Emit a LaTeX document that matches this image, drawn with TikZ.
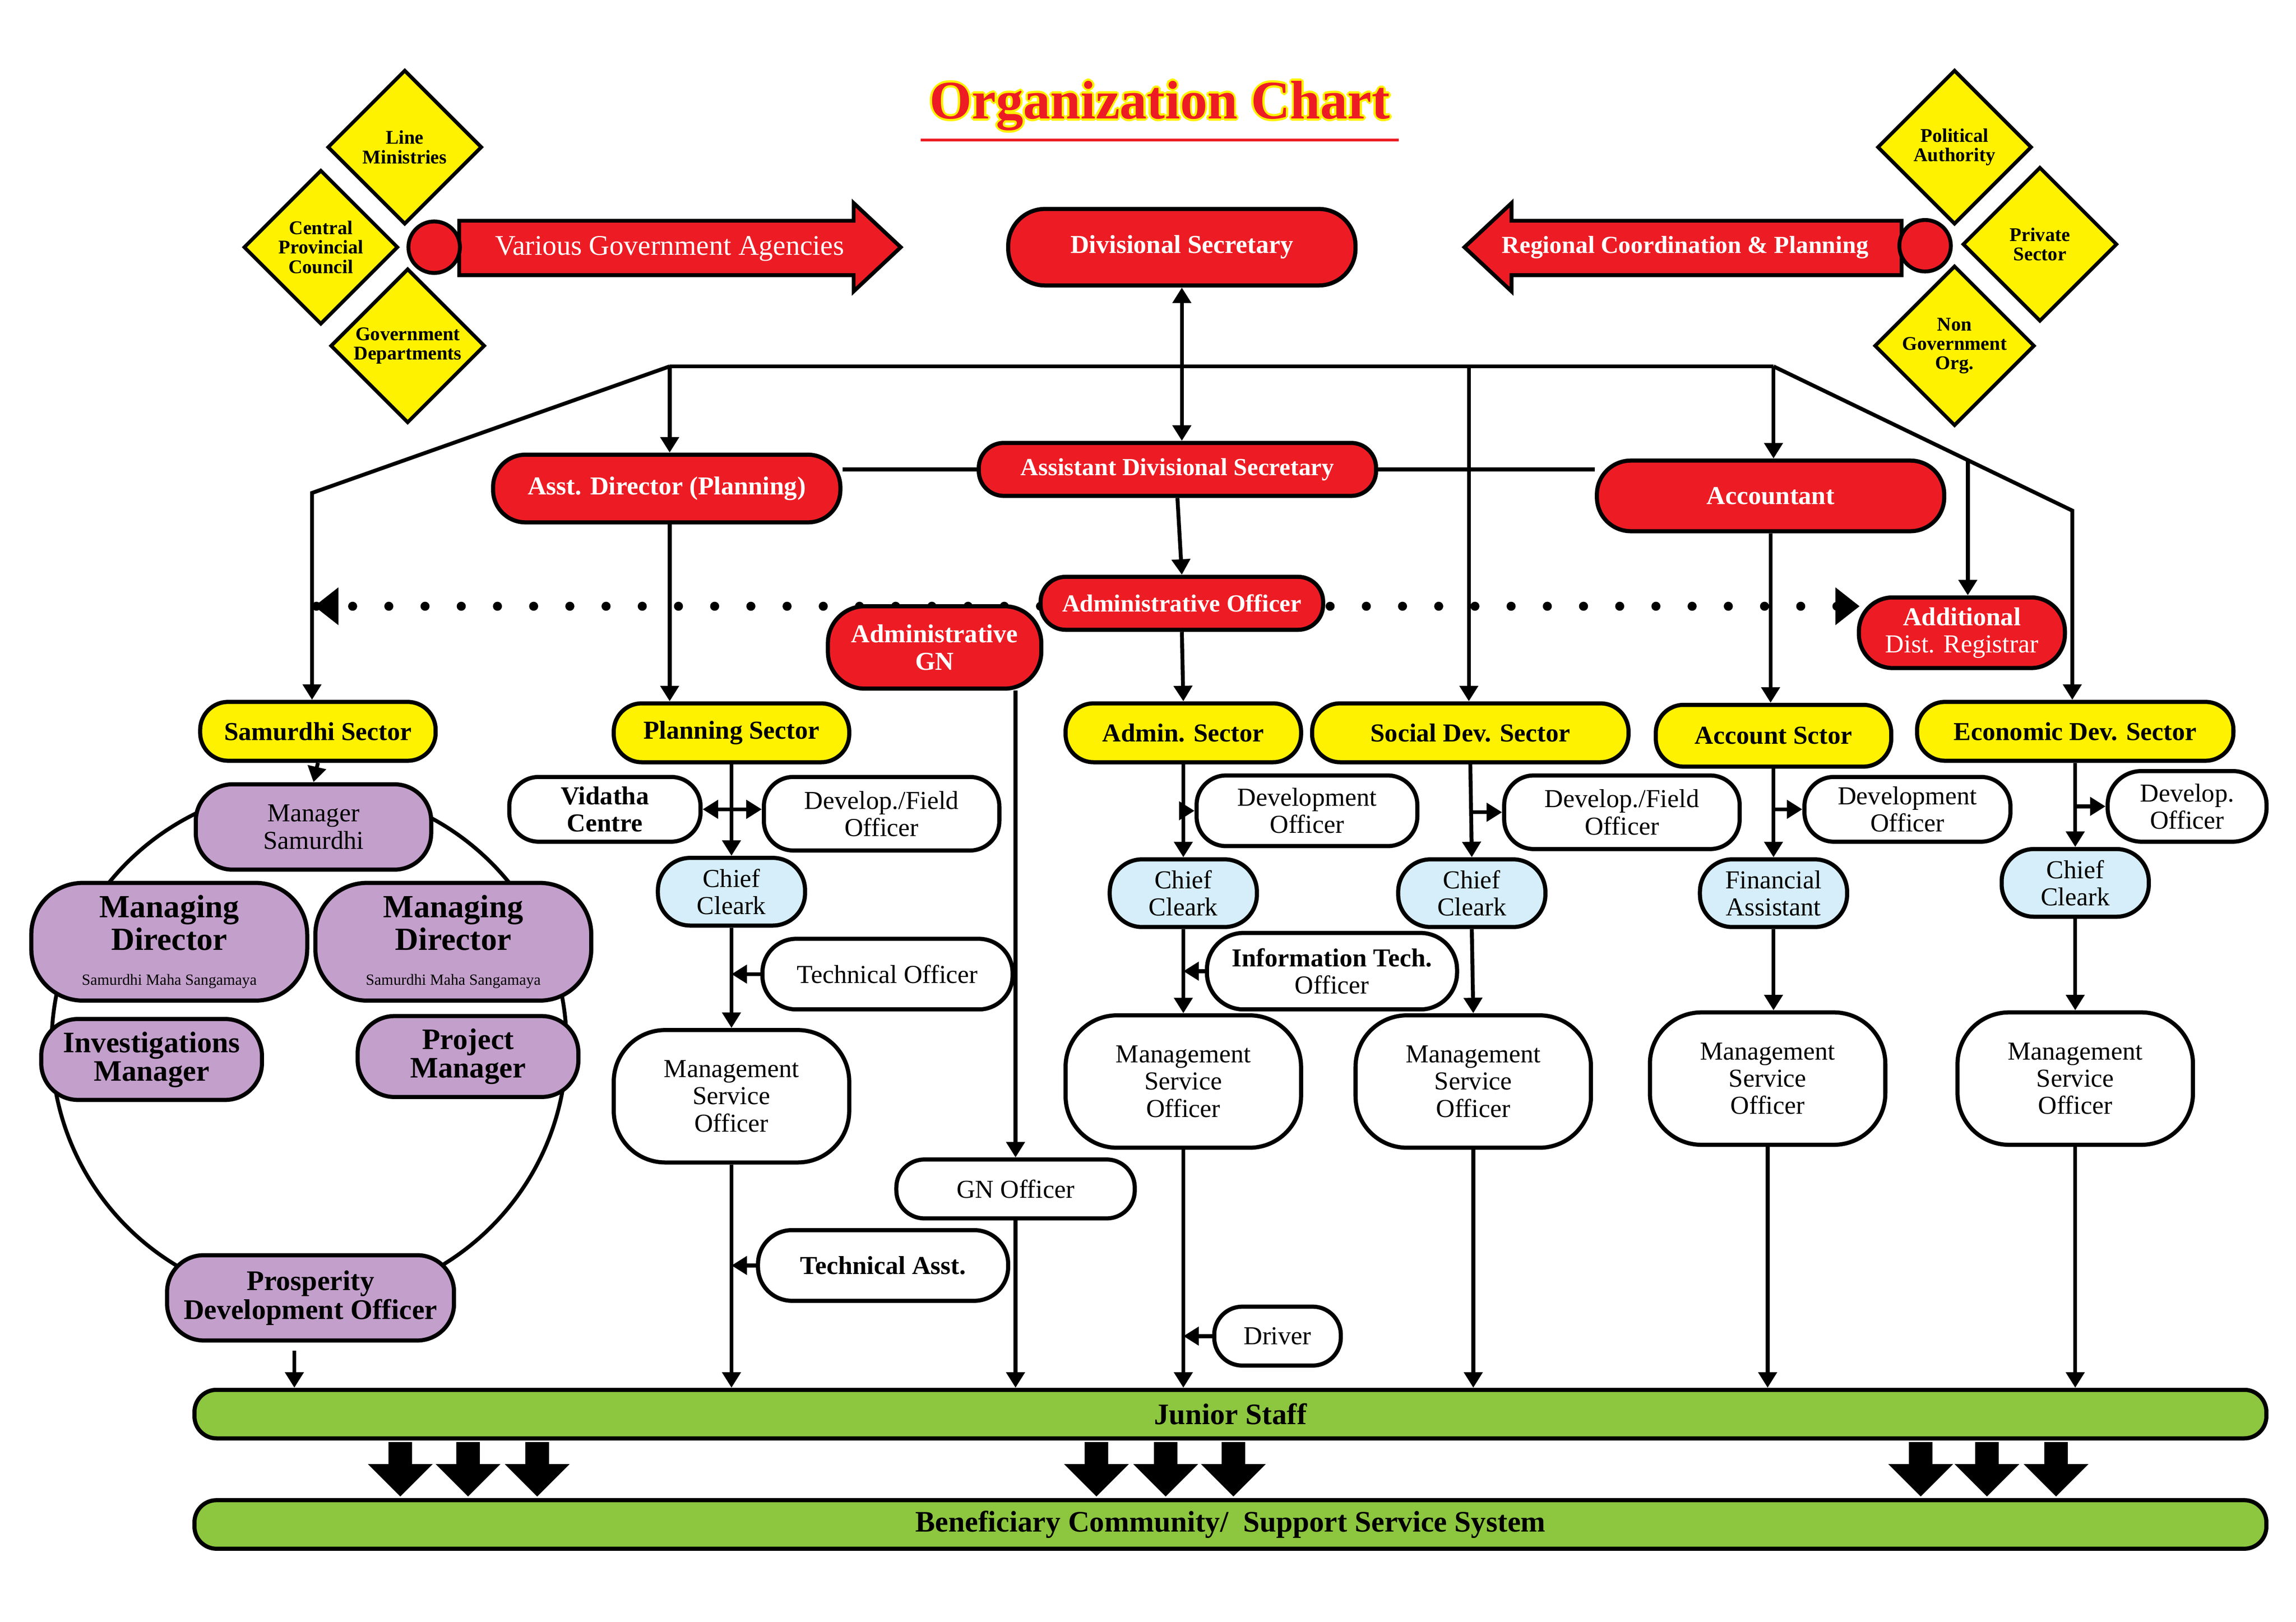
\documentclass[tikz,border=0pt]{standalone}
\usepackage{fontspec}
\setmainfont{Liberation Serif}
\usetikzlibrary{shapes.geometric, arrows.meta, positioning, calc}
\definecolor{chartred}{HTML}{ED1C24}
\definecolor{chartyel}{HTML}{FFF200}
\definecolor{chartpur}{HTML}{C39FCB}
\definecolor{chartblue}{HTML}{D5EEF9}
\definecolor{chartgreen}{HTML}{8DC63F}
\tikzset{
    base/.style={draw, line width=1.6pt, align=center, inner sep=1pt,
        font=\bfseries\fontsize{10}{10.5}\selectfont},
    redbox/.style={base, fill=chartred, text=white, rounded corners=0.34cm},
    yelbox/.style={base, fill=chartyel, rounded corners=0.38cm, minimum height=0.8cm},
    purbox/.style={base, fill=chartpur, rounded corners=0.5cm},
    bluebox/.style={base, fill=chartblue, rounded corners=0.44cm, minimum width=2cm, minimum height=0.92cm},
    whitebox/.style={base, fill=white, rounded corners=0.4cm},
    msobox/.style={base, fill=white, rounded corners=0.7cm, minimum width=3.2cm, minimum height=1.8cm},
    gem/.style={diamond, draw, line width=1.4pt, fill=chartyel, aspect=1, minimum size=2.1cm,
        inner sep=0pt, align=center, font=\bfseries\fontsize{7.5}{7.5}\selectfont},
    bar/.style={base, fill=chartgreen, rounded corners=0.3cm, minimum width=28.16cm, minimum height=0.66cm},
    arr/.style={-{Triangle[length=6pt,width=7pt]}, line width=1.5pt},
    line/.style={line width=1.5pt},
}
\begin{document}
\begin{tikzpicture}[x=0.02cm, y=-0.02cm]
    \useasboundingbox (0,0) rectangle (1560,1102);
    % title
    \foreach \dx/\dy in {-1.5/0,1.5/0,0/-1.5,0/1.5,-1/-1,1/1,-1/1,1/-1}
        \node[text=chartyel, font=\bfseries\fontsize{21}{21}\selectfont] at ($(788,72)+(\dx,\dy)$) {Organization Chart};
    \node[text=chartred, font=\bfseries\fontsize{21}{21}\selectfont] (title) at (788,72) {Organization Chart};
    \draw[chartred, line width=1.2pt] (title.south west) ++(0.15,0.1) coordinate (ulA) -- (ulA -| title.south east);
    % left agencies
    \node[gem] (line) at (275,100) {Line\\Ministries};
    \node[gem] (cpc) at (218,168) {Central\\Provincial\\Council};
    \node[gem] (gov) at (277,235) {Government\\Departments};
    \draw[line, fill=chartred] (312,150) -- (580,150) -- (580,138) -- (612,168) -- (580,198) -- (580,187) -- (312,187) -- cycle;
    \node[text=white, font=\fontsize{11}{11}\selectfont] (vga) at (455,169) {Various Government Agencies};
    \node[circle, draw, line width=1.5pt, fill=chartred, minimum size=0.7cm] (cl) at (295,168) {};
    % right agencies
    \node[gem] (pol) at (1328,100) {Political\\Authority};
    \node[gem] (prv) at (1386,166) {Private\\Sector};
    \node[gem] (ngo) at (1328,235) {Non\\Government\\Org.};
    \draw[line, fill=chartred] (1292,150) -- (1027,150) -- (1027,138) -- (995,168) -- (1027,198) -- (1027,187) -- (1292,187) -- cycle;
    \node[text=white, font=\bfseries\fontsize{9.5}{9.5}\selectfont] (rcp) at (1145,168) {Regional Coordination \& Planning};
    \node[circle, draw, line width=1.5pt, fill=chartred, minimum size=0.7cm] (cr) at (1308,167) {};
    % top management
    \node[redbox, minimum width=4.72cm, minimum height=1.04cm, rounded corners=0.5cm] (ds) at (803,168) {Divisional Secretary};
    \node[redbox, minimum width=5.4cm, minimum height=0.72cm, font=\bfseries\fontsize{9.5}{10}\selectfont] (ads) at (800,319) {Assistant Divisional Secretary};
    \node[redbox, minimum width=4.72cm, minimum height=0.92cm, rounded corners=0.44cm] (apd) at (453,332) {Asst. Director (Planning)};
    \node[redbox, minimum width=4.72cm, minimum height=0.96cm, rounded corners=0.46cm] (acc) at (1203,337) {Accountant};
    \draw[arr, {Triangle[length=6pt,width=7pt]}-{Triangle[length=6pt,width=7pt]}] (ds.south) -- (ds.south |- ads.north);
    \coordinate (tl) at (455,249);
    \coordinate (tr) at (1205,249);
    \coordinate (bendL) at (212,335);
    \coordinate (bendR) at (1408,347);
    \coordinate (soctap) at (998,249);
    \coordinate (regtap) at (1337,313);
    \draw[line] (tl) -- (tr);
    \draw[line] (ads.west) -- (ads.west -| apd.east);
    \draw[line] (ads.east) -- (ads.east -| acc.west);
    % dotted link
    \coordinate (dotL) at (215,412);
    \coordinate (dotR) at (1262,412);
    \draw[line width=3.5pt, line cap=round, dash pattern=on 0pt off 14pt] (dotL) -- (dotR);
    \draw[line width=1pt, fill=black] (dotL) -- ++(14,-11) -- ++(0,22) -- cycle;
    \draw[line width=1pt, fill=black] (dotR) -- ++(-14,-11) -- ++(0,22) -- cycle;
    \node[redbox, minimum width=3.84cm, minimum height=0.72cm, font=\bfseries\fontsize{9.5}{10}\selectfont] (ao) at (803,410) {Administrative Officer};
    \node[redbox, minimum width=2.9cm, minimum height=1.12cm, rounded corners=0.5cm] (agn) at (635,440) {Administrative\\GN};
    \node[redbox, minimum width=2.8cm, minimum height=0.96cm, rounded corners=0.46cm] (adr) at (1333,430) {Additional\\\mdseries Dist. Registrar};
    \draw[arr] (ads.south) -- (ao.north);
    % sectors
    \node[yelbox, minimum width=3.2cm] (sam) at (216,497) {Samurdhi Sector};
    \node[yelbox, minimum width=3.2cm] (plan) at (497,498) {Planning Sector};
    \node[yelbox, minimum width=3.2cm] (adm) at (804,498) {Admin. Sector};
    \node[yelbox, minimum width=4.3cm] (soc) at (999,498) {Social Dev. Sector};
    \node[yelbox, minimum width=3.2cm, minimum height=0.84cm] (accs) at (1205,500) {Account Sctor};
    \node[yelbox, minimum width=4.3cm] (eco) at (1410,497) {Economic Dev. Sector};
    \draw[arr] (tl) -- (bendL) -- (sam.north -| bendL);
    \draw[arr] (tr) -- (bendR) -- (eco.north -| bendR);
    \draw[arr] (tl) -- (tl |- apd.north);
    \draw[arr] (tr) -- (tr |- acc.north);
    \draw[arr] (soctap) -- (soctap |- soc.north);
    \draw[arr] (regtap) -- (regtap |- adr.north);
    \draw[arr] (apd.south -| tl) -- (tl |- plan.north);
    \draw[arr] (ao.south) -- (adm.north);
    \draw[arr] (acc.south) -- (acc.south |- accs.north);
    % samurdhi group
    \draw[line] (210,710) circle (3.5cm);
    \node[purbox, minimum width=3.2cm, minimum height=1.16cm] (mgr) at (213,562) {\mdseries Manager\\\mdseries Samurdhi};
    \node[purbox, minimum width=3.75cm, minimum height=1.6cm, rounded corners=0.7cm, font=\bfseries\fontsize{12.5}{12.5}\selectfont] (mdl) at (115,640) {Managing\\Director\\[1pt]{\mdseries\fontsize{6}{6}\selectfont Samurdhi Maha Sangamaya}};
    \node[purbox, minimum width=3.75cm, minimum height=1.6cm, rounded corners=0.7cm, font=\bfseries\fontsize{12.5}{12.5}\selectfont] (mdr) at (308,640) {Managing\\Director\\[1pt]{\mdseries\fontsize{6}{6}\selectfont Samurdhi Maha Sangamaya}};
    \node[purbox, minimum width=3.0cm, minimum height=1.1cm, font=\bfseries\fontsize{11.5}{11}\selectfont] (inv) at (103,720) {Investigations\\Manager};
    \node[purbox, minimum width=3.0cm, minimum height=1.1cm, font=\bfseries\fontsize{11.5}{11}\selectfont] (prj) at (318,718) {Project\\Manager};
    \node[purbox, minimum width=3.9cm, minimum height=1.16cm, font=\bfseries\fontsize{11}{10}\selectfont] (pdo) at (211,882) {Prosperity\\Development Officer};
    \draw[arr] (sam.south) -- (mgr.north);
    % planning column
    \node[whitebox, minimum width=2.6cm, minimum height=0.88cm] (vid) at (411,550) {Vidatha\\Centre};
    \node[whitebox, minimum width=3.2cm, minimum height=1.0cm] (dfo1) at (599,553) {\mdseries Develop./Field\\\mdseries Officer};
    \node[bluebox] (cc1) at (497,606) {\mdseries Chief\\\mdseries Cleark};
    \node[whitebox, minimum width=3.4cm, minimum height=0.96cm, rounded corners=0.46cm] (tof) at (603,662) {\mdseries Technical Officer};
    \node[msobox] (mso1) at (497,745) {\mdseries Management\\\mdseries Service\\\mdseries Officer};
    \node[whitebox, minimum width=3.4cm, minimum height=0.96cm, rounded corners=0.46cm] (tas) at (600,860) {Technical Asst.};
    \draw[arr] (plan.south) -- (cc1.north);
    \draw[arr] (cc1.north |- vid.east) -- (vid.east);
    \draw[arr] (cc1.north |- vid.east) -- (vid.east -| dfo1.west);
    \draw[arr] (cc1.south) -- (mso1.north);
    \draw[arr] (tof.west) -- (tof.west -| cc1.south);
    \draw[arr] (tas.west) -- (tas.west -| mso1.south);
    % gn column
    \node[whitebox, minimum width=3.24cm, minimum height=0.8cm, rounded corners=0.38cm] (gno) at (690,808) {\mdseries GN Officer};
    \draw[arr] (gno.north |- agn.south) -- (gno.north);
    % admin column
    \node[whitebox, minimum width=3.0cm, minimum height=0.96cm] (do2) at (888,551) {\mdseries Development\\\mdseries Officer};
    \node[bluebox] (cc2) at (804,607) {\mdseries Chief\\\mdseries Cleark};
    \node[whitebox, minimum width=3.4cm, minimum height=1.04cm, rounded corners=0.5cm] (ito) at (905,660) {Information Tech.\\\mdseries Officer};
    \node[msobox] (mso2) at (804,735) {\mdseries Management\\\mdseries Service\\\mdseries Officer};
    \node[whitebox, minimum width=1.72cm, minimum height=0.8cm, rounded corners=0.38cm] (drv) at (868,908) {\mdseries Driver};
    \draw[arr] (adm.south) -- (cc2.north);
    \draw[arr] (cc2.north |- do2.west) -- (do2.west);
    \draw[arr] (cc2.south) -- (mso2.north);
    \draw[arr] (ito.west) -- (ito.west -| cc2.south);
    \draw[arr] (drv.west) -- (drv.west -| mso2.south);
    % social column
    \node[whitebox, minimum width=3.2cm, minimum height=1.0cm] (dfo3) at (1102,552) {\mdseries Develop./Field\\\mdseries Officer};
    \node[bluebox] (cc3) at (1000,607) {\mdseries Chief\\\mdseries Cleark};
    \node[msobox] (mso3) at (1001,735) {\mdseries Management\\\mdseries Service\\\mdseries Officer};
    \draw[arr] (soc.south) -- (cc3.north);
    \draw[arr] (cc3.north |- dfo3.west) -- (dfo3.west);
    \draw[arr] (cc3.south) -- (mso3.north);
    % account column
    \node[whitebox, minimum width=2.8cm, minimum height=0.88cm] (do4) at (1296,550) {\mdseries Development\\\mdseries Officer};
    \node[bluebox] (fa) at (1205,607) {\mdseries Financial\\\mdseries Assistant};
    \node[msobox] (mso4) at (1201,733) {\mdseries Management\\\mdseries Service\\\mdseries Officer};
    \draw[arr] (accs.south) -- (fa.north);
    \draw[arr] (fa.north |- do4.west) -- (do4.west);
    \draw[arr] (fa.south) -- (fa.south |- mso4.north);
    % economic column
    \node[whitebox, minimum width=2.16cm, minimum height=0.96cm, rounded corners=0.46cm] (do5) at (1486,548) {\mdseries Develop.\\\mdseries Officer};
    \node[bluebox] (cc5) at (1410,600) {\mdseries Chief\\\mdseries Cleark};
    \node[msobox] (mso5) at (1410,733) {\mdseries Management\\\mdseries Service\\\mdseries Officer};
    \draw[arr] (eco.south) -- (cc5.north);
    \draw[arr] (cc5.north |- do5.west) -- (do5.west);
    \draw[arr] (cc5.south) -- (mso5.north);
    % bottom bars
    \node[bar, font=\bfseries\fontsize{11.5}{11.5}\selectfont] (junior) at (836,961) {Junior Staff};
    \node[bar, font=\bfseries\fontsize{11.5}{11.5}\selectfont] (bene) at (836,1036) {Beneficiary Community/\ \ Support Service System};
    \coordinate (pdotap) at (200,918);
    \draw[arr] (pdotap) -- (pdotap |- junior.north);
    \foreach \col in {mso1, mso2, mso3, mso4, mso5}
        \draw[arr] (\col.south) -- (\col.south |- junior.north);
    \draw[arr] (gno.south) -- (gno.south |- junior.north);
    \foreach \xx in {272, 318, 365, 745, 792, 838, 1305, 1350, 1397}
        \fill (\xx-8,980) -- (\xx+8,980) -- (\xx+8,995) -- (\xx+22,995) -- (\xx,1017) -- (\xx-22,995) -- (\xx-8,995) -- cycle;
\end{tikzpicture}
\end{document}
